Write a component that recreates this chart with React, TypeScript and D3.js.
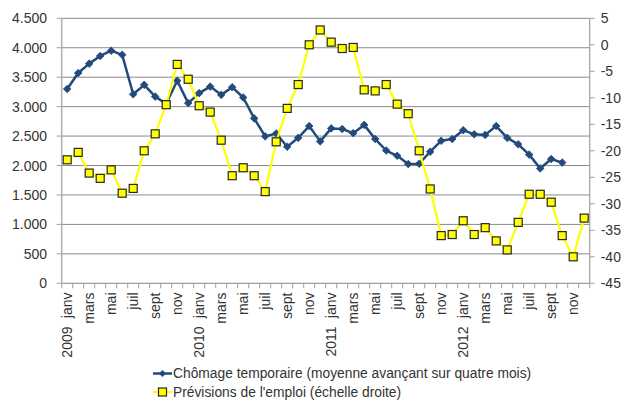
import React from "react";
import * as d3 from "d3";

const monthNames = ["janv", "févr", "mars", "avr", "mai", "juin", "juil", "août", "sept", "oct", "nov", "déc"];
const years = ["2009", "2010", "2011", "2012"];

// Chômage temporaire (moyenne avançant sur quatre mois) – left axis
const chomage = [
  3300, 3570, 3730, 3860, 3950, 3880, 3210, 3370, 3170, 3050, 3440, 3060,
  3230, 3340, 3200, 3330, 3155, 2800, 2495, 2545, 2320, 2470, 2670, 2410,
  2630, 2620, 2550, 2690, 2450, 2255, 2165, 2025, 2030, 2235, 2420, 2450,
  2600, 2530, 2520, 2670, 2470, 2360, 2185, 1950, 2110, 2050,
];

// Prévisions de l'emploi (échelle droite)
const previsions = [
  -21.7, -20.3, -24.2, -25.2, -23.6, -28.0, -27.1, -20.0, -16.8, -11.3, -3.7, -6.5,
  -11.5, -12.7, -18.0, -24.7, -23.2, -24.7, -27.7, -18.3, -12.0, -7.5, 0.0, 2.8,
  0.5, -0.7, -0.5, -8.5, -8.7, -7.5, -11.2, -13.0, -20.0, -27.2, -36.0, -35.8,
  -33.2, -35.8, -34.5, -37.0, -38.7, -33.5, -28.2, -28.2, -29.7, -36.0, -40.0, -32.7,
];

const leftTicks = [0, 500, 1000, 1500, 2000, 2500, 3000, 3500, 4000, 4500];
const rightTicks = [-45, -40, -35, -30, -25, -20, -15, -10, -5, 0, 5];

const legendLabels = [
  "Chômage temporaire (moyenne avançant sur quatre mois)",
  "Prévisions de l'emploi (échelle droite)",
];

const W = 624, H = 402;
const plotL = 61.7, plotR = 589.7, plotT = 18.3, plotB = 283.3;
const FONT = "'Liberation Sans', Arial, sans-serif";
const BLUE = "#234a7c";
const YELLOW = "#ffff00";

const categories = years.flatMap((y) => monthNames.map((m) => `${y}-${m}`));

export default function App() {
  const x = d3.scaleBand<string>().domain(categories).range([plotL, plotR]).padding(0);
  const cx = (i: number) => (x(categories[i]) as number) + x.bandwidth() / 2;
  const yL = d3.scaleLinear().domain([0, 4500]).range([plotB, plotT]);
  const yR = d3.scaleLinear().domain([-45, 5]).range([plotB, plotT]);

  const blueLine = d3.line<number>().x((_, i) => cx(i)).y((d) => yL(d))(chomage) as string;
  const yellowLine = d3.line<number>().x((_, i) => cx(i)).y((d) => yR(d))(previsions) as string;

  const diamond = (px: number, py: number, r: number) =>
    `M${px},${py - r}L${px + r},${py}L${px},${py + r}L${px - r},${py}Z`;

  const fmt = (v: number) => d3.format(",")(v).replace(/,/g, ".");

  return (
    <svg width={W} height={H} style={{ position: "absolute", left: 0, top: 0, background: "#fff" }} fontFamily={FONT}>
      {/* gridlines */}
      {leftTicks.slice(1).map((t) => (
        <line key={"g" + t} x1={plotL} x2={plotR} y1={yL(t)} y2={yL(t)} stroke="#8a8a8a" strokeWidth={1} />
      ))}
      {/* axes */}
      <line x1={plotL} x2={plotL} y1={plotT} y2={plotB} stroke="#b4b4b4" strokeWidth={1.6} />
      <line x1={plotR} x2={plotR} y1={plotT} y2={plotB} stroke="#a0a0a0" strokeWidth={1.2} />
      <line x1={plotL} x2={plotR} y1={plotB} y2={plotB} stroke="#a0a0a0" strokeWidth={1.2} />
      {leftTicks.map((t) => (
        <g key={"l" + t}>
          <line x1={plotL - 5} x2={plotL} y1={yL(t)} y2={yL(t)} stroke="#a0a0a0" />
          <text x={47} y={yL(t)} dy="0.36em" textAnchor="end" fontSize={14} fill="#333">{fmt(t)}</text>
        </g>
      ))}
      {rightTicks.map((t) => (
        <g key={"r" + t}>
          <line x1={plotR} x2={plotR + 5} y1={yR(t)} y2={yR(t)} stroke="#a0a0a0" />
          <text x={plotR + 11} y={yR(t)} dy="0.36em" textAnchor="start" fontSize={14} fill="#333">{t}</text>
        </g>
      ))}
      {/* category ticks */}
      {categories.concat(["end"]).map((c, i) => {
        const px = i < categories.length ? (x(c) as number) : plotR;
        return <line key={"t" + i} x1={px} x2={px} y1={plotB} y2={plotB + 5} stroke="#a0a0a0" />;
      })}
      {/* month labels */}
      {categories.map((c, i) =>
        i % 2 === 0 ? (
          <text key={"m" + i} transform={`translate(${cx(i) + 5},292.5) rotate(-90)`} textAnchor="end" fontSize={14} fill="#333">
            {monthNames[i % 12]}
          </text>
        ) : null
      )}
      {years.map((yr, k) => (
        <text key={"y" + yr} transform={`translate(${cx(k * 12) + 5},326.5) rotate(-90)`} textAnchor="end" fontSize={14} fill="#333">
          {yr}
        </text>
      ))}
      {/* series */}
      <path d={blueLine} fill="none" stroke={BLUE} strokeWidth={2.5} strokeLinejoin="round" />
      {chomage.map((d, i) => (
        <path key={"bd" + i} d={diamond(cx(i), yL(d), 3.8)} fill={BLUE} stroke={BLUE} strokeWidth={0.8} />
      ))}
      <path d={yellowLine} fill="none" stroke={YELLOW} strokeWidth={2.2} strokeLinejoin="round" />
      {previsions.map((d, i) => (
        <rect key={"ys" + i} x={cx(i) - 4} y={yR(d) - 4} width={8} height={8} fill={YELLOW} stroke="#262626" strokeWidth={1.2} />
      ))}
      {/* legend */}
      <line x1={153} x2={172} y1={373.5} y2={373.5} stroke={BLUE} strokeWidth={2.5} />
      <path d={diamond(162.5, 373.5, 3.6)} fill={BLUE} />
      <text x={173} y={373.5} dy="0.36em" fontSize={13.8} fill="#333">{legendLabels[0]}</text>
      <line x1={153} x2={172} y1={392} y2={392} stroke={YELLOW} strokeWidth={2.2} />
      <rect x={158.5} y={388} width={8} height={8} fill={YELLOW} stroke="#262626" strokeWidth={1.2} />
      <text x={173} y={392} dy="0.36em" fontSize={13.8} fill="#333">{legendLabels[1]}</text>
    </svg>
  );
}
